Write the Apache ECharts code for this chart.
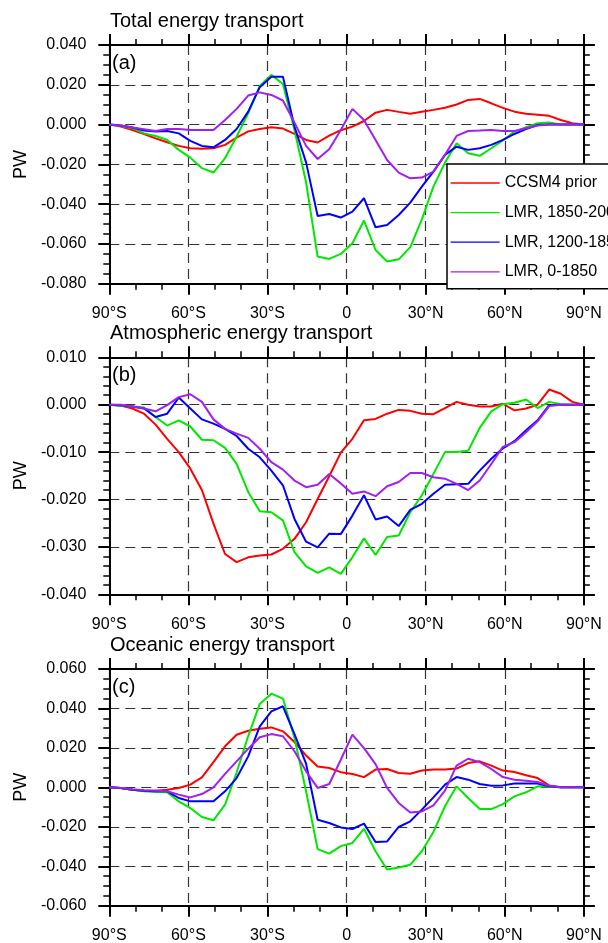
<!DOCTYPE html>
<html>
<head>
<meta charset="utf-8">
<script src="https://cdn.jsdelivr.net/npm/echarts@6/dist/echarts.min.js"></script>
<style>
html,body{margin:0;padding:0;background:#fff;}
#chart{width:608px;height:943px;}
</style>
</head>
<body>
<div id="chart"></div>
<script>
// Latitude grid (42 points, 90S..90N)
const lats = [
  -90, -85.61, -81.22, -76.83, -72.44, -68.05, -63.66,
  -59.27, -54.88, -50.49, -46.10, -41.71, -37.32, -32.93,
  -28.54, -24.15, -19.76, -15.37, -10.98, -6.59, -2.20,
  2.20, 6.59, 10.98, 15.37, 19.76, 24.15, 28.54,
  32.93, 37.32, 41.71, 46.10, 50.49, 54.88, 59.27,
  63.66, 68.05, 72.44, 76.83, 81.22, 85.61, 90
];
const xTickLabels = ['90°S', '60°S', '30°S', '0', '30°N', '60°N', '90°N'];
const seriesNames = ['CCSM4 prior', 'LMR, 1850-2000', 'LMR, 1200-1850', 'LMR, 0-1850'];
const panelTitles = ['Total energy transport', 'Atmospheric energy transport', 'Oceanic energy transport'];
const panelTags = ['(a)', '(b)', '(c)'];
const yMin = [-0.08, -0.04, -0.06];
const yMax = [0.04, 0.01, 0.06];
const yStep = [0.02, 0.01, 0.02];

// (a) Total energy transport
const totalCCSM4 = [
  0, -0.0010, -0.0027, -0.0047, -0.0069, -0.0089, -0.0107,
  -0.0119, -0.0121, -0.0119, -0.0102, -0.0065, -0.0034, -0.0022,
  -0.0013, -0.0020, -0.0047, -0.0077, -0.0090, -0.0055, -0.0028,
  -0.0010, 0.0018, 0.0060, 0.0074, 0.0064, 0.0055, 0.0065,
  0.0074, 0.0085, 0.0101, 0.0124, 0.0129, 0.0107, 0.0084,
  0.0065, 0.0054, 0.0049, 0.0044, 0.0023, 0.0007, 0
];
const totalLMR1850 = [
  0, -0.0007, -0.0018, -0.0044, -0.0057, -0.0077, -0.0127,
  -0.0166, -0.0219, -0.0241, -0.0169, -0.0060, 0.0057, 0.0194,
  0.0250, 0.0204, -0.0027, -0.0290, -0.0663, -0.0675, -0.0650,
  -0.0596, -0.0482, -0.0630, -0.0688, -0.0677, -0.0616, -0.0476,
  -0.0312, -0.0191, -0.0094, -0.0144, -0.0157, -0.0119, -0.0080,
  -0.0035, -0.0013, 0.0007, 0.0010, 0, 0, 0
];
const totalLMR1200 = [
  0, -0.0005, -0.0015, -0.0030, -0.0035, -0.0032, -0.0044,
  -0.0082, -0.0107, -0.0114, -0.0077, -0.0022, 0.0065, 0.0188,
  0.0241, 0.0241, -0.0010, -0.0190, -0.0459, -0.0449, -0.0467,
  -0.0437, -0.0370, -0.0516, -0.0504, -0.0454, -0.0392, -0.0312,
  -0.0236, -0.0152, -0.0111, -0.0127, -0.0119, -0.0102, -0.0077,
  -0.0047, -0.0023, -0.0002, 0, 0, 0, 0
];
const totalLMR0 = [
  0, -0.0005, -0.0015, -0.0023, -0.0032, -0.0022, -0.0022,
  -0.0027, -0.0027, -0.0027, 0.0023, 0.0079, 0.0146, 0.0162,
  0.0149, 0.0121, 0.0010, -0.0107, -0.0173, -0.0124, -0.0027,
  0.0079, 0.0023, -0.0077, -0.0178, -0.0241, -0.0270, -0.0266,
  -0.0236, -0.0152, -0.0057, -0.0032, -0.0030, -0.0027, -0.0032,
  -0.0032, -0.0018, -0.0005, 0, 0, 0, 0
];

// (b) Atmospheric energy transport
const atmCCSM4 = [
  0, -0.0002, -0.0008, -0.0019, -0.0042, -0.0072, -0.0100,
  -0.0135, -0.0180, -0.0251, -0.0315, -0.0332, -0.0322, -0.0318,
  -0.0316, -0.0304, -0.0283, -0.0248, -0.0199, -0.0151, -0.0101,
  -0.0072, -0.0033, -0.0030, -0.0019, -0.0011, -0.0013, -0.0019,
  -0.0020, -0.0007, 0.0006, 0.0000, -0.0004, -0.0004, 0.0002,
  -0.0012, -0.0008, 0.0000, 0.0032, 0.0023, 0.0006, 0
];
const atmLMR1850 = [
  0, -0.0002, -0.0004, -0.0006, -0.0026, -0.0044, -0.0033,
  -0.0046, -0.0074, -0.0075, -0.0091, -0.0125, -0.0184, -0.0225,
  -0.0227, -0.0244, -0.0311, -0.0341, -0.0355, -0.0343, -0.0357,
  -0.0322, -0.0282, -0.0317, -0.0279, -0.0276, -0.0227, -0.0191,
  -0.0146, -0.0100, -0.0100, -0.0097, -0.0049, -0.0014, 0.0001,
  0.0004, 0.0011, -0.0007, 0.0006, 0.0001, 0, 0
];
const atmLMR1200 = [
  0, -0.0001, -0.0004, -0.0008, -0.0026, -0.0019, 0.0015,
  -0.0008, -0.0031, -0.0040, -0.0051, -0.0066, -0.0093, -0.0111,
  -0.0139, -0.0170, -0.0241, -0.0289, -0.0301, -0.0272, -0.0273,
  -0.0234, -0.0191, -0.0242, -0.0236, -0.0256, -0.0222, -0.0209,
  -0.0188, -0.0169, -0.0168, -0.0167, -0.0139, -0.0114, -0.0092,
  -0.0077, -0.0054, -0.0033, -0.0001, 0, 0, 0
];
const atmLMR0 = [
  0, 0, -0.0004, -0.0008, -0.0014, -0.0001, 0.0016,
  0.0022, 0.0006, -0.0031, -0.0051, -0.0061, -0.0070, -0.0093,
  -0.0121, -0.0137, -0.0160, -0.0174, -0.0169, -0.0146, -0.0166,
  -0.0188, -0.0183, -0.0193, -0.0172, -0.0163, -0.0144, -0.0144,
  -0.0153, -0.0156, -0.0167, -0.0180, -0.0160, -0.0125, -0.0089,
  -0.0079, -0.0058, -0.0035, -0.0003, 0, 0, 0
];

// (c) Oceanic energy transport
const ocnCCSM4 = [
  0, -0.0003, -0.0012, -0.0017, -0.0017, -0.0012, -0.0003,
  0.0014, 0.0051, 0.0128, 0.0208, 0.0267, 0.0287, 0.0297,
  0.0304, 0.0284, 0.0230, 0.0161, 0.0106, 0.0098, 0.0077,
  0.0068, 0.0052, 0.0090, 0.0093, 0.0073, 0.0069, 0.0085,
  0.0091, 0.0090, 0.0095, 0.0123, 0.0132, 0.0110, 0.0085,
  0.0078, 0.0061, 0.0047, 0.0010, 0, 0, 0
];
const ocnLMR1850 = [
  0, -0.0005, -0.0012, -0.0020, -0.0024, -0.0025, -0.0071,
  -0.0105, -0.0150, -0.0167, -0.0088, 0.0075, 0.0260, 0.0423,
  0.0475, 0.0450, 0.0250, -0.0020, -0.0313, -0.0336, -0.0298,
  -0.0282, -0.0210, -0.0324, -0.0417, -0.0406, -0.0392, -0.0324,
  -0.0226, -0.0096, 0.0005, -0.0054, -0.0110, -0.0110, -0.0085,
  -0.0046, -0.0025, 0.0005, 0.0003, 0, 0, 0
];
const ocnLMR1200 = [
  0, -0.0003, -0.0012, -0.0017, -0.0020, -0.0020, -0.0054,
  -0.0071, -0.0071, -0.0071, -0.0020, 0.0047, 0.0157, 0.0309,
  0.0385, 0.0411, 0.0270, 0.0120, -0.0164, -0.0181, -0.0203,
  -0.0211, -0.0184, -0.0277, -0.0274, -0.0201, -0.0172, -0.0113,
  -0.0051, 0.0014, 0.0052, 0.0039, 0.0017, 0.0008, 0.0010,
  0.0019, 0.0019, 0.0019, 0.0005, 0, 0, 0
];
const ocnLMR0 = [
  0, -0.0003, -0.0010, -0.0015, -0.0017, -0.0020, -0.0037,
  -0.0051, -0.0034, 0.0000, 0.0068, 0.0132, 0.0196, 0.0254,
  0.0270, 0.0259, 0.0183, 0.0081, -0.0003, 0.0017, 0.0140,
  0.0267, 0.0199, 0.0118, -0.0003, -0.0079, -0.0127, -0.0122,
  -0.0091, -0.0017, 0.0110, 0.0145, 0.0128, 0.0093, 0.0052,
  0.0039, 0.0034, 0.0027, 0.0008, 0, 0, 0
];

const panelData = [
  [totalCCSM4, totalLMR1850, totalLMR1200, totalLMR0],
  [atmCCSM4, atmLMR1850, atmLMR1200, atmLMR0],
  [ocnCCSM4, ocnLMR1850, ocnLMR1200, ocnLMR0]
];

// ---- styling / layout ----
const FONT = 'Liberation Sans, Arial, Helvetica, sans-serif';
const colors = ['#ff0000', '#00e800', '#0000ff', '#a020f0'];
const gridTop = [45, 357.3, 669];
const gridH = [238.8, 237, 236.7];
const minorSplits = [4, 5, 4];

const grids = [], xAxes = [], yAxes = [], series = [], titles = [];
const axisLineStyle = { color: '#000', width: 2 };
const gridDash = { type: [10, 6], color: '#333', width: 1.2 };

for (let i = 0; i < 3; i++) {
  grids.push({ left: 109.3, width: 474.6, top: gridTop[i], height: gridH[i], containLabel: false, outerBoundsMode: 'none' });
  const xCommon = {
    type: 'value', gridIndex: i, min: -90, max: 90, interval: 30,
    axisLine: { show: true, onZero: false, lineStyle: axisLineStyle },
    axisTick: { show: true, length: 11, lineStyle: { color: '#000', width: 2 } },
    minorTick: { show: true, splitNumber: 3, length: 6, lineStyle: { color: '#000', width: 1.5 } },
    minorSplitLine: { show: false }
  };
  xAxes.push(Object.assign({}, xCommon, {
    position: 'bottom',
    axisLabel: { show: true, margin: 22, fontSize: 16, color: '#000', fontFamily: FONT,
      formatter: v => xTickLabels[Math.round((v + 90) / 30)] },
    splitLine: { show: true, lineStyle: gridDash }
  }));
  xAxes.push(Object.assign({}, xCommon, {
    position: 'top', axisLabel: { show: false }, splitLine: { show: false }
  }));
  const yCommon = {
    type: 'value', gridIndex: i, min: yMin[i], max: yMax[i], interval: yStep[i],
    axisLine: { show: true, onZero: false, lineStyle: axisLineStyle },
    axisTick: { show: true, length: 11, lineStyle: { color: '#000', width: 2 } },
    minorTick: { show: true, splitNumber: minorSplits[i], length: 6, lineStyle: { color: '#000', width: 1.5 } },
    minorSplitLine: { show: false }
  };
  yAxes.push(Object.assign({}, yCommon, {
    position: 'left',
    axisLabel: { show: true, margin: 23, fontSize: 16, color: '#000', fontFamily: FONT,
      formatter: v => (Math.abs(v) < 1e-9 ? 0 : v).toFixed(3) },
    splitLine: { show: true, lineStyle: gridDash },
    name: 'PW', nameLocation: 'middle', nameGap: 79,
    nameTextStyle: { fontSize: 18, color: '#000', fontFamily: FONT }
  }));
  yAxes.push(Object.assign({}, yCommon, {
    position: 'right', axisLabel: { show: false }, splitLine: { show: false }
  }));
  for (let j = 0; j < 4; j++) {
    const vals = panelData[i][j];
    series.push({
      type: 'line', name: seriesNames[j], xAxisIndex: 2 * i, yAxisIndex: 2 * i,
      data: lats.map((la, k) => [la, vals[k]]),
      symbol: 'none', showSymbol: false, silent: true, z: 3 + j,
      lineStyle: { color: colors[j], width: 2 }, itemStyle: { color: colors[j] }
    });
  }
  titles.push({ text: panelTitles[i], left: 110, top: gridTop[i] - 34, padding: 0,
    textStyle: { fontSize: 20, fontWeight: 'normal', color: '#000', fontFamily: FONT } });
  titles.push({ text: panelTags[i], left: 112, top: gridTop[i] + 8.6, padding: 0,
    textStyle: { fontSize: 20, fontWeight: 'normal', color: '#000', fontFamily: FONT } });
}

const chart = echarts.init(document.getElementById('chart'), null, { renderer: 'canvas', width: 608, height: 943 });
chart.setOption({
  animation: false,
  backgroundColor: '#fff',
  textStyle: { fontFamily: FONT },
  title: titles,
  grid: grids,
  xAxis: xAxes,
  yAxis: yAxes,
  legend: {
    data: seriesNames, orient: 'vertical', left: 447, top: 164,
    itemWidth: 49, itemHeight: 14, itemGap: 13.6,
    padding: [11, 8, 9, 3],
    backgroundColor: '#fff', borderColor: '#000', borderWidth: 1.5,
    selectedMode: false,
    itemStyle: { opacity: 0, borderWidth: 0 },
    lineStyle: { width: 1.3 },
    textStyle: { fontSize: 16, color: '#000', fontFamily: FONT }
  },
  series: series
});
</script>
</body>
</html>
